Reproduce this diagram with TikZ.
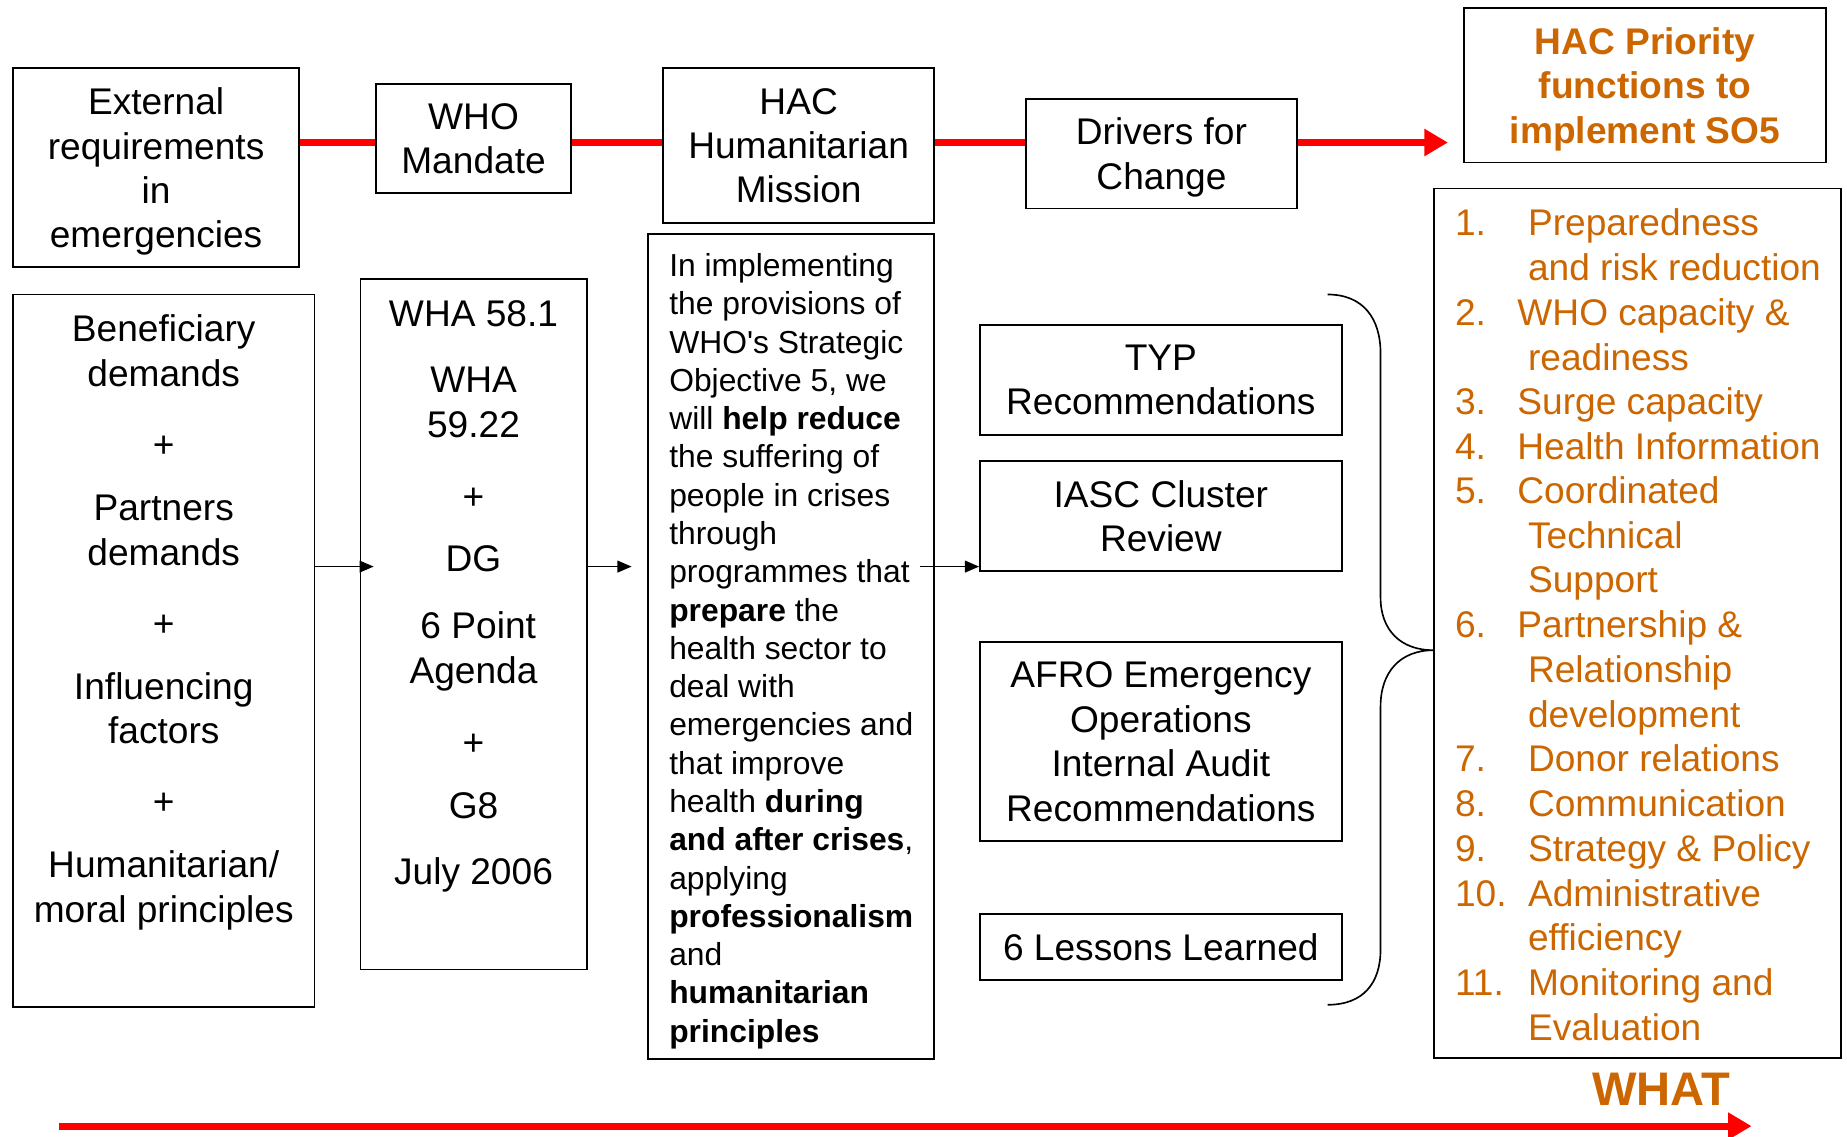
\documentclass[tikz,border=0pt]{standalone}
\usepackage{fontspec}
\setmainfont{Liberation Sans}
\usetikzlibrary{arrows.meta}
\definecolor{hacorange}{RGB}{204,102,0}
\definecolor{hacred}{RGB}{255,0,0}
\newcommand{\bigtxt}{\fontsize{31.5}{37.7}\selectfont}
\newcommand{\smalltxt}{\fontsize{27}{32.5}\selectfont}
\newcommand{\whattxt}{\fontsize{40}{48}\selectfont\bfseries}
\begin{document}
\begin{tikzpicture}[x=1pt,y=-1pt,
  box/.style={draw=black, line width=1.6pt, inner sep=0pt, align=center, font=\bigtxt, text depth=0pt},
  ln/.style={inner sep=0pt, text height=22.5pt, text depth=0pt, font=\bigtxt},
  lst/.style={ln, anchor=west, text=hacorange},
  redline/.style={draw=hacred, line width=6pt},
  redarrow/.style={redline, -{Triangle[length=20pt,width=22pt]}},
  blkarrow/.style={draw=black, line width=1.2pt, -{Triangle[length=12pt,width=10pt]}}]
\useasboundingbox (0,0) rectangle (1568,965);

% top row
\node[box, minimum width=243pt, minimum height=169pt] (ext) at (132.5,142.5) {External\\requirements\\in\\emergencies};
\node[box, minimum width=166pt, minimum height=93pt] (who) at (402,117.5) {WHO\\Mandate};
\node[box, minimum width=230pt, minimum height=131pt] (hac) at (678,123.5) {HAC\\Humanitarian\\Mission};
\node[box, minimum width=230pt, minimum height=93pt] (drv) at (986,130.5) {Drivers for\\Change};
\node[box, minimum width=307pt, minimum height=131pt, text=hacorange, font=\bigtxt\bfseries] (prio) at (1396.5,72.5) {HAC Priority\\functions to\\implement SO5};

\coordinate (ry) at (0,121);
\draw[redline] (ext.east |- ry) -- (who.west |- ry);
\draw[redline] (who.east |- ry) -- (hac.west |- ry);
\draw[redline] (hac.east |- ry) -- (drv.west |- ry);
\draw[redarrow, shorten >=13pt] (drv.east |- ry) -- (prio.west |- ry);

% left column
\node[box, minimum width=256pt, minimum height=605pt] (ben) at (139,552.5) {};
\node[ln] (b1) at (139,279) {Beneficiary};
\node[ln] (b2) at (139,317) {demands};
\node[ln] (b3) at (139,377) {+};
\node[ln] (b4) at (139,431) {Partners};
\node[ln] (b5) at (139,469) {demands};
\node[ln] (b6) at (139,529) {+};
\node[ln] (b7) at (139,583) {Influencing};
\node[ln] (b8) at (139,620) {factors};
\node[ln] (b9) at (139,680) {+};
\node[ln] (b10) at (139,734) {Humanitarian/};
\node[ln] (b11) at (139,772) {moral principles};

% WHA column
\node[box, minimum width=192pt, minimum height=586pt] (wha) at (402,530) {};
\node[ln] (w1) at (402,266) {WHA 58.1};
\node[ln] (w2) at (402,322) {WHA};
\node[ln] (w3) at (402,360) {59.22};
\node[ln] (w4) at (402,421) {+};
\node[ln] (w5) at (402,474) {DG};
\node[ln] (w6) at (406,531) {6 Point};
\node[ln] (w7) at (402,569) {Agenda};
\node[ln] (w8) at (402,630) {+};
\node[ln] (w9) at (402,684) {G8};
\node[ln] (w10) at (402,740) {July 2006};

% mission statement
\node[box, minimum width=243pt, minimum height=700pt] (txt) at (671.5,549) {};
\node[inner sep=0pt, anchor=north west, align=left, font=\smalltxt] (txtbody) at (568,215) {In implementing\\
the provisions of\\
WHO\textquotesingle s Strategic\\
Objective 5, we\\
will \textbf{help reduce}\\
the suffering of\\
people in crises\\
through\\
programmes that\\
\textbf{prepare} the\\
health sector to\\
deal with\\
emergencies and\\
that improve\\
health \textbf{during}\\
\textbf{and after crises},\\
applying\\
\textbf{professionalism}\\
and\\
\textbf{humanitarian}\\
\textbf{principles}};

% drivers column
\node[box, minimum width=307pt, minimum height=93pt] (typ) at (985.5,322.5) {TYP\\Recommendations};
\node[box, minimum width=307pt, minimum height=94pt] (iasc) at (985.5,438) {IASC Cluster\\Review};
\node[box, minimum width=307pt, minimum height=169pt] (afro) at (985.5,629.5) {AFRO Emergency\\Operations\\Internal Audit\\Recommendations};
\node[box, minimum width=307pt, minimum height=56pt] (les) at (985.5,804) {6 Lessons Learned};

% arrows
\coordinate (ay) at (0,481);
\draw[blkarrow, shorten >=-12pt] (ben.east |- ay) -- (wha.west |- ay);
\draw[blkarrow, shorten >=13pt] (wha.east |- ay) -- (txt.west |- ay);
\draw[blkarrow, shorten <=-13pt] (txt.east |- ay) -- (iasc.west |- ay);

% brace
\draw[line width=1.4pt] (1127,250) .. controls (1157,250) and (1172,270) .. (1172,300)
  -- (1172,507) .. controls (1172,535) and (1189,552) .. (1217,552)
  .. controls (1189,552) and (1172,570) .. (1172,600)
  -- (1172,806) .. controls (1172,835) and (1157,853) .. (1127,853);

% priority list
\node[box, minimum width=346pt, minimum height=738pt] (list) at (1390,529) {};
\node[lst] (n1) at (1235,189) {1.};
\node[lst] (l1) at (1297,189) {Preparedness};
\node[lst] (l2) at (1297,227) {and risk reduction};
\node[lst] (n2) at (1235,265) {2.};
\node[lst] (l3) at (1288,265) {WHO capacity \&};
\node[lst] (l4) at (1297,303) {readiness};
\node[lst] (n3) at (1235,341) {3.};
\node[lst] (l5) at (1288,341) {Surge capacity};
\node[lst] (n4) at (1235,379) {4.};
\node[lst] (l6) at (1288,379) {Health Information};
\node[lst] (n5) at (1235,416) {5.};
\node[lst] (l7) at (1288,416) {Coordinated};
\node[lst] (l8) at (1297,454) {Technical};
\node[lst] (l9) at (1297,492) {Support};
\node[lst] (n6) at (1235,530) {6.};
\node[lst] (l10) at (1288,530) {Partnership \&};
\node[lst] (l11) at (1297,568) {Relationship};
\node[lst] (l12) at (1297,606) {development};
\node[lst] (n7) at (1235,644) {7.};
\node[lst] (l13) at (1297,644) {Donor relations};
\node[lst] (n8) at (1235,682) {8.};
\node[lst] (l14) at (1297,682) {Communication};
\node[lst] (n9) at (1235,720) {9.};
\node[lst] (l15) at (1297,720) {Strategy \& Policy};
\node[lst] (n10) at (1235,758) {10.};
\node[lst] (l16) at (1297,758) {Administrative};
\node[lst] (l17) at (1297,796) {efficiency};
\node[lst] (n11) at (1235,834) {11.};
\node[lst] (l18) at (1297,834) {Monitoring and};
\node[lst] (l19) at (1297,872) {Evaluation};

% WHAT and bottom arrow
\node[inner sep=0pt, font=\whattxt, text=hacorange] (what) at (1410,925) {WHAT};
\coordinate (bs) at (50,956);
\coordinate (be) at (1487,956);
\draw[redarrow] (bs) -- (be);
\end{tikzpicture}
\end{document}
